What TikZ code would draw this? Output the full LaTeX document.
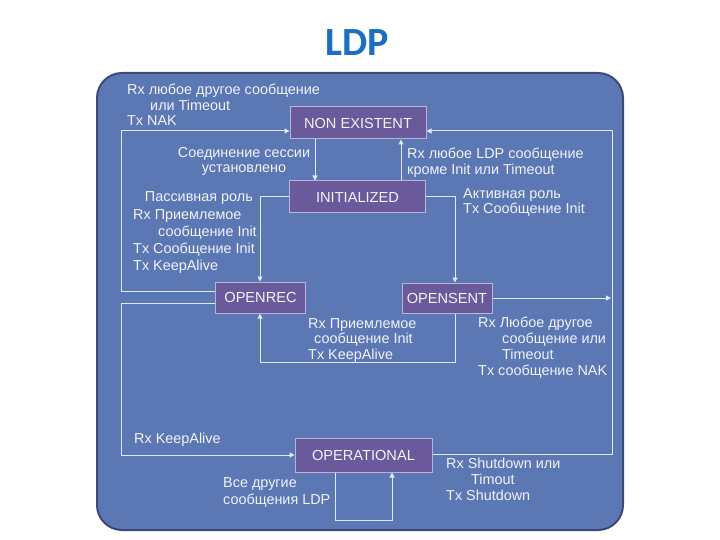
\documentclass[tikz,border=0pt]{standalone}
\usepackage{fontspec}
\setmainfont{Liberation Sans}
\newfontfamily\titlefont{Carlito}
\usetikzlibrary{arrows.meta}
\definecolor{panel}{HTML}{5B78B5}
\definecolor{paneledge}{HTML}{3C4A78}
\definecolor{boxfill}{HTML}{6A5A9C}
\definecolor{boxedge}{HTML}{B8B4DA}
\definecolor{wire}{HTML}{E4E8F5}
\definecolor{txt}{HTML}{F2F2F8}
\definecolor{ttl}{HTML}{1B6EC0}
\begin{document}
\begin{tikzpicture}[x=1pt,y=-1pt,
  state/.style={draw=boxedge, fill=boxfill, line width=1pt, text=txt,
    font=\fontsize{14.6}{16}\selectfont, inner sep=0pt},
  wirel/.style={draw=wire, line width=1pt},
  arr/.style={wirel, -{Triangle[length=5pt,width=5pt]}},
  lbl/.style={text=txt, font=\fontsize{14.4}{15.6}\selectfont, align=left,
    inner sep=0pt, anchor=north west}]
\useasboundingbox (0,0) rectangle (720,540);
% title
\node[text=ttl, font=\titlefont\bfseries\fontsize{40}{44}\selectfont] (title) at (357,43) {LDP};
% panel
\draw[fill=panel, draw=paneledge, line width=2pt, rounded corners=25pt] (97,73) rectangle (623,530);
% states
\node[state, minimum width=136pt, minimum height=32pt] (nonex) at (358,123) {NON EXISTENT};
\node[state, minimum width=136pt, minimum height=32pt] (init) at (357.5,197) {INITIALIZED};
\node[state, minimum width=90pt, minimum height=31pt] (opnrec) at (260.5,297.5) {OPENREC};
\node[state, minimum width=90pt, minimum height=30pt] (opsent) at (447,298) {OPENSENT};
\node[state, minimum width=137pt, minimum height=34pt] (oper) at (363.5,455) {OPERATIONAL};
% coordinates
\coordinate (a1) at (121,291); \coordinate (a2) at (121,131);
\coordinate (b1) at (121,303); \coordinate (b2) at (121,455);
\coordinate (c1) at (315,160); \coordinate (c2) at (401,160);
\coordinate (d1) at (260,197); \coordinate (d2) at (455,197);
\coordinate (e1) at (455,362); \coordinate (e2) at (260,362);
\coordinate (f1) at (611,298);
\coordinate (g1) at (612,454); \coordinate (g2) at (612,131);
\coordinate (h1) at (335,520); \coordinate (h2) at (392,520);
% connectors
\draw[arr] (opnrec.west |- a1) -- (a1) -- (a2) -- (nonex.west |- a2);
\draw[arr] (opnrec.west |- b1) -- (b1) -- (b2) -- (oper.west |- b2);
\draw[arr] (nonex.south -| c1) -- (init.north -| c1);
\draw[arr] (init.north -| c2) -- (nonex.south -| c2);
\draw[arr] (init.west) -- (d1) -- (opnrec.north -| d1);
\draw[arr] (init.east) -- (d2) -- (opsent.north -| d2);
\draw[arr] (opsent.south -| e1) -- (e1) -- (e2) -- (opnrec.south -| e2);
\draw[arr] (opsent.east) -- (f1);
\draw[arr] (oper.east |- g1) -- (g1) -- (g2) -- (nonex.east |- g2);
\draw[arr] (oper.south -| h1) -- (h1) -- (h2) -- (oper.south -| h2);
% labels
\node[lbl] (l1) at (127,84) {Rx любое другое сообщение\\\hspace*{23pt}или Timeout\\Tx NAK};
\node[lbl, align=center, anchor=north] (l2) at (244,147) {Соединение сессии\\установлено};
\node[lbl] (l3) at (407,148) {Rx любое LDP сообщение\\кроме Init или Timeout};
\node[lbl, anchor=base east] (l4) at (253,202) {Пассивная роль};
\node[lbl, font=\fontsize{14.4}{17}\selectfont] (l5) at (133,209) {Rx Приемлемое\\\hspace*{25pt}сообщение Init\\Tx Сообщение Init\\Tx KeepAlive};
\node[lbl] (l6) at (463,188) {Активная роль\\Tx Сообщение Init};
\node[lbl] (l7) at (308,318) {Rx Приемлемое\\\hspace*{6pt}сообщение Init\\Tx KeepAlive};
\node[lbl, font=\fontsize{14.4}{16}\selectfont] (l8) at (478,317) {Rx Любое другое\\\hspace*{24pt}сообщение или\\\hspace*{24pt}Timeout\\Tx сообщение NAK};
\node[lbl, anchor=base west] (l9) at (134,443) {Rx KeepAlive};
\node[lbl, font=\fontsize{14.4}{17}\selectfont] (l10) at (223,477) {Все другие\\сообщения LDP};
\node[lbl, font=\fontsize{14.4}{16}\selectfont] (l11) at (446,458) {Rx Shutdown или\\\hspace*{25pt}Timout\\Tx Shutdown};
\end{tikzpicture}
\end{document}
